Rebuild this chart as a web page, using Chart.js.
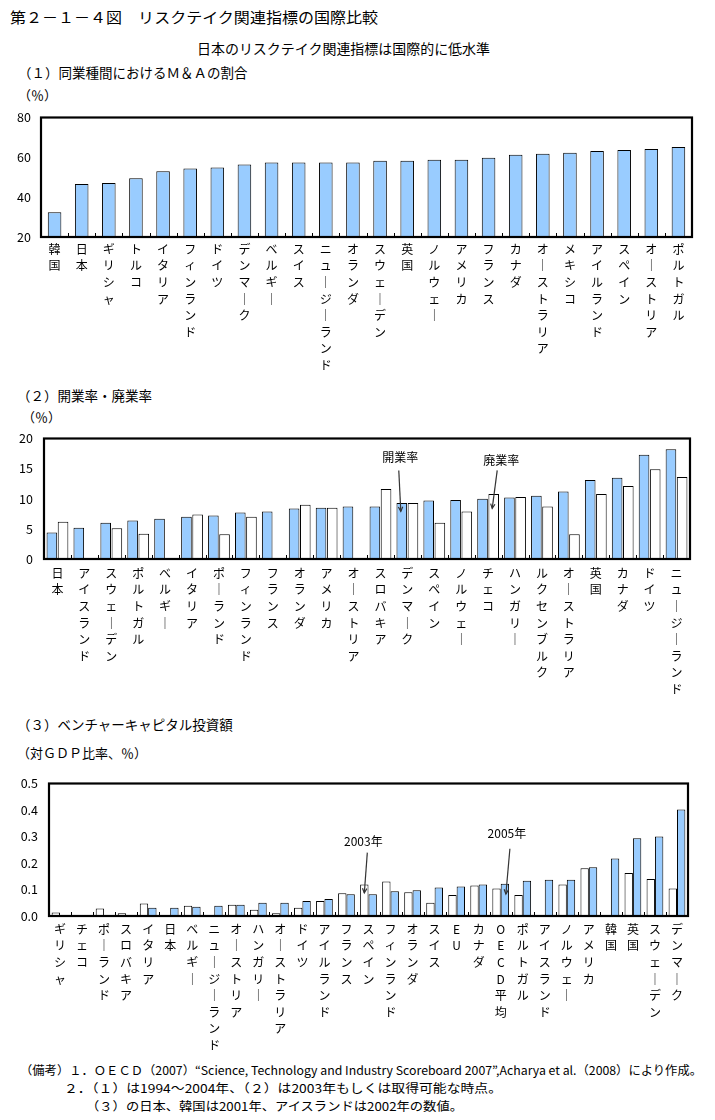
<!DOCTYPE html>
<html><head><meta charset="utf-8">
<script src="https://cdn.jsdelivr.net/npm/chart.js@4.4.0/dist/chart.umd.min.js"></script>
<style>
body{margin:0;background:#fff;width:715px;height:1120px;position:relative;overflow:hidden;font-family:"Noto Sans CJK JP",sans-serif;color:#000}
.t{position:absolute;white-space:nowrap;line-height:1;transform-origin:0 50%}
canvas{position:absolute;left:0}
</style></head><body>
<div class="t" data-w="368" style="left:10px;top:9px;font-size:15px">第２－１－４図　リスクテイク関連指標の国際比較</div>
<div class="t" data-w="293" style="left:197px;top:41px;font-size:14px">日本のリスクテイク関連指標は国際的に低水準</div>
<div class="t" style="left:18px;top:66px;font-size:13.5px">（１）同業種間におけるＭ＆Ａの割合</div>
<div class="t" style="left:18px;top:88px;font-size:13px">（％）</div>
<div class="t" style="left:17px;top:389px;font-size:13.5px">（２）開業率・廃業率</div>
<div class="t" style="left:22px;top:410px;font-size:13px">（％）</div>
<div class="t" style="left:17px;top:718px;font-size:13.5px">（３）ベンチャーキャピタル投資額</div>
<div class="t" style="left:17px;top:746px;font-size:13px">（対ＧＤＰ比率、％）</div>
<div class="t" data-w="682" style="left:20px;top:1064px;font-size:12px">（備考）１．ＯＥＣＤ（2007）“Science, Technology and Industry Scoreboard 2007”,Acharya et al.（2008）により作成。</div>
<div class="t" data-w="438" style="left:64px;top:1082px;font-size:12px">２．（１）は1994～2004年、（２）は2003年もしくは取得可能な時点。</div>
<div class="t" data-w="377" style="left:86px;top:1100px;font-size:12px">（３）の日本、韓国は2001年、アイスランドは2002年の数値。</div>
<canvas id="c1" width="715" height="280" style="top:100px"></canvas>
<canvas id="c2" width="715" height="290" style="top:420px"></canvas>
<canvas id="c3" width="715" height="295" style="top:765px"></canvas>
<script>
// ---- data (1) M&A share ----
const ma_categories = ['韓国','日本','ギリシャ','トルコ','イタリア','フィンランド','ドイツ','デンマーク','ベルギー','スイス','ニュージーランド','オランダ','スウェーデン','英国','ノルウェー','アメリカ','フランス','カナダ','オーストラリア','メキシコ','アイルランド','スペイン','オーストリア','ポルトガル'];
const ma_values = [32.4,46.6,47.1,49.5,53.0,54.4,54.9,56.4,57.4,57.4,57.4,57.4,58.3,58.3,58.8,58.8,59.8,61.3,61.8,62.3,63.2,63.7,64.2,65.2];
const ma_ticks = [20,40,60,80];

// ---- data (2) entry / exit rates ----
const biz_categories = ['日本','アイスランド','スウェーデン','ポルトガル','ベルギー','イタリア','ポーランド','フィンランド','フランス','オランダ','アメリカ','オーストリア','スロバキア','デンマーク','スペイン','ノルウェー','チェコ','ハンガリー','ルクセンブルク','オーストラリア','英国','カナダ','ドイツ','ニュージーランド'];
const biz_open = [4.4,5.2,6.0,6.4,6.7,7.0,7.2,7.7,7.9,8.4,8.5,8.7,8.7,9.3,9.7,9.8,10.0,10.2,10.5,11.2,13.1,13.5,17.3,18.2];
const biz_close = [6.2,null,5.1,4.2,null,7.4,4.1,7.0,null,9.0,8.5,null,11.6,9.3,6.0,7.9,10.8,10.3,8.7,4.1,10.8,12.1,14.9,13.6];
const biz_ticks = [0,5,10,15,20];

// ---- data (3) venture capital ----
const vc_categories = ['ギリシャ','チェコ','ポーランド','スロバキア','イタリア','日本','ベルギー','ニュージーランド','オーストリア','ハンガリー','オーストラリア','ドイツ','アイルランド','フランス','スペイン','フィンランド','オランダ','スイス','EU','カナダ','OECD平均','ポルトガル','アイスランド','ノルウェー','アメリカ','韓国','英国','スウェーデン','デンマーク'];
const vc_2003 = [0.013,null,0.028,0.010,0.047,null,0.039,null,0.042,0.024,0.010,0.031,0.057,0.086,0.119,0.130,0.090,0.050,0.079,0.115,0.104,0.079,null,0.119,0.180,null,0.162,0.140,0.104];
const vc_2005 = [null,null,null,null,0.031,0.031,0.035,0.039,0.042,0.050,0.050,0.057,0.064,0.082,0.082,0.093,0.097,0.108,0.111,0.119,0.122,0.133,0.137,0.137,0.184,0.217,0.293,0.300,0.402];
const vc_ticks = [0,0.1,0.2,0.3,0.4,0.5];

// fit selected texts to measured widths
document.querySelectorAll('.t[data-w]').forEach(el=>{
  const w = el.getBoundingClientRect().width;
  el.style.transform = 'scaleX(' + (parseFloat(el.dataset.w)/w) + ')';
});

const FONT = '"Noto Sans CJK JP", sans-serif';
const BLUE = '#99CCFF';
const vertical = s => Array.from(s).map(c => c === 'ー' ? '｜' : c);

const framePlugin = {
  id: 'frame',
  afterDatasetsDraw(chart) {
    const {ctx, chartArea: a, scales: {x}} = chart;
    const n = chart.data.labels.length;
    ctx.save();
    ctx.strokeStyle = '#000';
    ctx.lineWidth = 1;
    ctx.beginPath();
    for (let i = 1; i < n; i++) {
      const px = Math.round((x.getPixelForValue(i - 1) + x.getPixelForValue(i)) / 2) + 0.5;
      ctx.moveTo(px, a.bottom); ctx.lineTo(px, a.bottom - 4);
    }
    ctx.stroke();
    ctx.lineWidth = 2.2;
    ctx.strokeRect(a.left, a.top, a.right - a.left, a.bottom - a.top);
    ctx.restore();
  }
};

const arrowPlugin = {
  id: 'arrows',
  afterDraw(chart, args, opts) {
    const list = opts.items || [];
    const {ctx, scales: {y}} = chart;
    list.forEach(it => {
      const el = chart.getDatasetMeta(it.ds).data[it.idx];
      const bx = el.x;
      ctx.save();
      ctx.font = '12px ' + FONT;
      ctx.fillStyle = '#000';
      ctx.textAlign = 'center';
      ctx.textBaseline = 'middle';
      ctx.fillText(it.text, bx + it.textDx, y.getPixelForValue(it.textVal));
      const x1 = bx + it.fromDx, y1 = y.getPixelForValue(it.fromVal);
      const x2 = bx + it.toDx, y2 = y.getPixelForValue(it.toVal);
      ctx.strokeStyle = '#333';
      ctx.lineWidth = 1.2;
      ctx.beginPath(); ctx.moveTo(x1, y1); ctx.lineTo(x2, y2); ctx.stroke();
      const ang = Math.atan2(y2 - y1, x2 - x1);
      ctx.beginPath();
      ctx.moveTo(x2 - 5 * Math.cos(ang - 0.45), y2 - 5 * Math.sin(ang - 0.45));
      ctx.lineTo(x2, y2);
      ctx.lineTo(x2 - 5 * Math.cos(ang + 0.45), y2 - 5 * Math.sin(ang + 0.45));
      ctx.stroke();
      ctx.restore();
    });
  }
};

function build(id, cfg) {
  new Chart(document.getElementById(id), {
    type: 'bar',
    data: {labels: cfg.labels.map(vertical), datasets: cfg.datasets},
    plugins: [framePlugin, arrowPlugin],
    options: {
      responsive: false, animation: false, devicePixelRatio: 1,
      layout: {padding: {top: cfg.padTop, right: cfg.padRight, left: 0, bottom: 0}},
      plugins: {legend: {display: false}, tooltip: {enabled: false}, arrows: {items: cfg.arrows || []}},
      datasets: {bar: {categoryPercentage: cfg.catPct, barPercentage: cfg.barPct}},
      scales: {
        x: {
          type: 'category', offset: true,
          grid: {display: false, drawTicks: false}, border: {display: false},
          ticks: {autoSkip: false, maxRotation: 0, minRotation: 0, color: '#000', padding: cfg.xPad,
                  font: {family: FONT, size: 12, lineHeight: 1.38}},
          afterFit: s => { s.height = cfg.xHeight; }
        },
        y: {
          min: cfg.min, max: cfg.max,
          grid: {display: false, drawTicks: false}, border: {display: false},
          afterBuildTicks: s => { s.ticks = cfg.ticks.map(v => ({value: v})); },
          ticks: {color: '#000', padding: cfg.yPad, font: {family: FONT, size: 12.5},
                  callback: v => cfg.fmt(v)},
          afterFit: s => { s.width = cfg.yWidth; }
        }
      }
    }
  });
}

build('c1', {
  labels: ma_categories,
  datasets: [{data: ma_values, backgroundColor: BLUE, borderColor: '#000', borderWidth: 1}],
  min: 20, max: 80, ticks: ma_ticks, fmt: v => String(v),
  padTop: 14, padRight: 23, yWidth: 41, xHeight: 143, yPad: 10, xPad: 4,
  catPct: 1, barPct: 0.5
});

build('c2', {
  labels: biz_categories,
  datasets: [
    {label: '開業率', data: biz_open, backgroundColor: BLUE, borderColor: '#000', borderWidth: 1},
    {label: '廃業率', data: biz_close, backgroundColor: '#fff', borderColor: '#000', borderWidth: 1}
  ],
  min: 0, max: 20, ticks: biz_ticks, fmt: v => String(v),
  padTop: 18, padRight: 25, yWidth: 44, xHeight: 151, yPad: 11, xPad: 6,
  catPct: 0.83, barPct: 0.95,
  arrows: [
    {ds: 0, idx: 13, text: '開業率', textDx: -1.5, textVal: 16.8, fromDx: -3, fromVal: 14.7, toDx: -1, toVal: 7.9},
    {ds: 1, idx: 16, text: '廃業率', textDx: 7.5, textVal: 16.3, fromDx: 3.5, fromVal: 14.7, toDx: -1.5, toVal: 8.4}
  ]
});

build('c3', {
  labels: vc_categories,
  datasets: [
    {label: '2003年', data: vc_2003, backgroundColor: '#fff', borderColor: '#000', borderWidth: 1},
    {label: '2005年', data: vc_2005, backgroundColor: BLUE, borderColor: '#000', borderWidth: 1}
  ],
  min: 0, max: 0.5, ticks: vc_ticks, fmt: v => v.toFixed(1),
  padTop: 13, padRight: 27, yWidth: 49, xHeight: 144, yPad: 11, xPad: 5,
  catPct: 0.76, barPct: 1,
  arrows: [
    {ds: 0, idx: 14, text: '2003年', textDx: -1, textVal: 0.283, fromDx: 3, fromVal: 0.239, toDx: 0, toVal: 0.087},
    {ds: 1, idx: 20, text: '2005年', textDx: 2, textVal: 0.312, fromDx: 5, fromVal: 0.254, toDx: 1, toVal: 0.083}
  ]
});
</script>
</body></html>
